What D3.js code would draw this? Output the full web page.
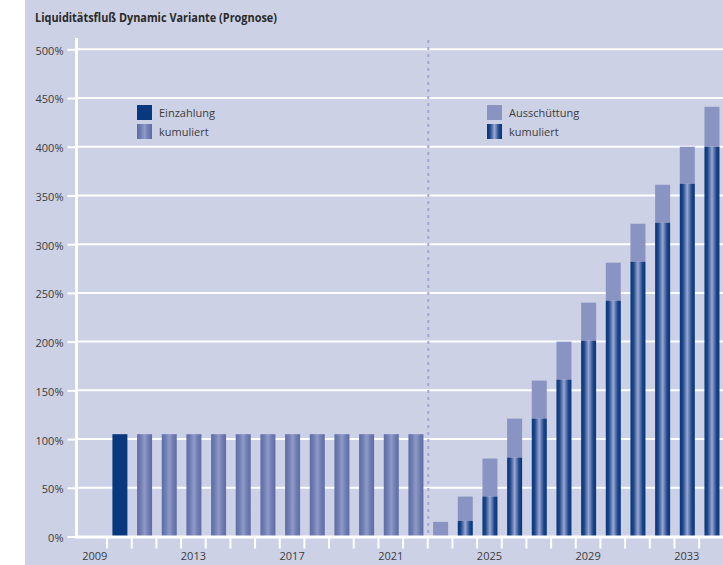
<!DOCTYPE html>
<html><head><meta charset="utf-8">
<script src="https://cdn.jsdelivr.net/npm/d3@7"></script>
<style>
html,body{margin:0;padding:0;background:#fff;}
svg{display:block;}
text{font-family:"Open Sans","DejaVu Sans",sans-serif;}
</style></head>
<body>
<svg id="chart" width="723" height="565"></svg>
<script>
// ---- data ----
const years = [2009,2010,2011,2012,2013,2014,2015,2016,2017,2018,2019,2020,2021,2022,2023,2024,2025,2026,2027,2028,2029,2030,2031,2032,2033,2034];
const tickYears = [2009,2013,2017,2021,2025,2029,2033];
const yTicks = [0,50,100,150,200,250,300,350,400,450,500];
const einzahlungYears = [2010];
const einzahlungValues = [105];
const kumuliertYears = [2011,2012,2013,2014,2015,2016,2017,2018,2019,2020,2021,2022];
const kumuliertValues = [105,105,105,105,105,105,105,105,105,105,105,105];
const prognoseYears = [2023,2024,2025,2026,2027,2028,2029,2030,2031,2032,2033,2034];
const prognoseKumuliert = [0,16,41,81,121,161,201,242,282,322,362,400];
const prognoseGesamt = [15,41,80,121,160,200,240,281,321,361,400,441];
const title = "Liquiditätsfluß Dynamic Variante (Prognose)";
const legendLeft = ["Einzahlung","kumuliert"];
const legendRight = ["Ausschüttung","kumuliert"];

// ---- setup ----
const svg = d3.select("#chart");
const W = 723, H = 565;
const bg = "#ccd1e6";
const navy = "#08397f";
const lightBar = "#8a94c2";

const defs = svg.append("defs");
function grad(id, stops){
  const g = defs.append("linearGradient").attr("id",id).attr("x1","0%").attr("x2","100%").attr("y1","0%").attr("y2","0%");
  stops.forEach(s=>g.append("stop").attr("offset",s[0]).attr("stop-color",s[1]));
}
grad("gKum",[["0%","#5d6ca7"],["25%","#6f7db2"],["50%","#8f9ac8"],["75%","#6f7db2"],["100%","#5d6ca7"]]);
grad("gNavy",[["0%","#06367d"],["20%","#1c4689"],["50%","#9ca6d2"],["80%","#1c4689"],["100%","#06367d"]]);

svg.append("rect").attr("x",25).attr("y",0).attr("width",W-25).attr("height",H).attr("fill",bg);

const x = d3.scaleBand().domain(years).range([82.4, 723.8]).paddingInner(0).paddingOuter(0);
const y = d3.scaleLinear().domain([0,500]).range([536.5, 49.3]);
const bw = 15;
const bx = d => x(d) + (x.bandwidth()-bw)/2 + 0.5;

// title
svg.append("text").attr("x",35).attr("y",22).text(title)
  .attr("font-weight","bold").attr("font-size",12.5).attr("fill","#2a2a2a")
  .attr("textLength",242).attr("lengthAdjust","spacingAndGlyphs");

// gridlines
svg.append("g").selectAll("line").data(yTicks.filter(d=>d>0)).join("line")
  .attr("x1",76).attr("x2",W).attr("y1",d=>y(d)).attr("y2",d=>y(d))
  .attr("stroke","#fff").attr("stroke-width",2);

// y axis
const yAxis = d3.axisLeft(y).tickValues(yTicks).tickFormat(d=>d+"%").tickSize(9).tickPadding(4);
const gy = svg.append("g").attr("transform","translate(76.5,0)").call(yAxis);
gy.select(".domain").remove();
gy.selectAll(".tick line").attr("stroke","#fff").attr("stroke-width",2);
gy.selectAll(".tick text").attr("font-size",11).attr("fill","#3c3c3c").attr("dy","0.45em")
  .attr("font-family","'Open Sans',sans-serif");
svg.append("line").attr("x1",76.5).attr("x2",76.5).attr("y1",38).attr("y2",538)
  .attr("stroke","#fff").attr("stroke-width",3);

// dotted separator
svg.append("line").attr("x1",x(2023)+0.5).attr("x2",x(2023)+0.5).attr("y1",40).attr("y2",535)
  .attr("stroke","#a3a9d2").attr("stroke-width",2).attr("stroke-dasharray","3,4");

// bars
svg.append("g").selectAll("rect").data(einzahlungYears.map((d,i)=>({yr:d,v:einzahlungValues[i]}))).join("rect")
  .attr("x",d=>bx(d.yr)).attr("width",bw).attr("y",d=>y(d.v)).attr("height",d=>y(0)-y(d.v)).attr("fill",navy);
svg.append("g").selectAll("rect").data(kumuliertYears.map((d,i)=>({yr:d,v:kumuliertValues[i]}))).join("rect")
  .attr("x",d=>bx(d.yr)).attr("width",bw).attr("y",d=>y(d.v)).attr("height",d=>y(0)-y(d.v)).attr("fill","url(#gKum)");
const prog = prognoseYears.map((d,i)=>({yr:d,k:prognoseKumuliert[i],t:prognoseGesamt[i]}));
svg.append("g").selectAll("rect").data(prog).join("rect")
  .attr("x",d=>bx(d.yr)).attr("width",bw).attr("y",d=>y(d.t)).attr("height",d=>y(d.k)-y(d.t)).attr("fill",lightBar);
svg.append("g").selectAll("rect").data(prog.filter(d=>d.k>0)).join("rect")
  .attr("x",d=>bx(d.yr)).attr("width",bw).attr("y",d=>y(d.k)).attr("height",d=>y(0)-y(d.k)).attr("fill","url(#gNavy)");

// x axis line
svg.append("line").attr("x1",75).attr("x2",W).attr("y1",y(0)+0.5).attr("y2",y(0)+0.5)
  .attr("stroke","#fff").attr("stroke-width",3);
// boundary ticks
svg.append("g").selectAll("line").data(years.slice(1)).join("line")
  .attr("x1",d=>x(d)).attr("x2",d=>x(d)).attr("y1",538).attr("y2",548.5)
  .attr("stroke","#fff").attr("stroke-width",2);
// x labels
const xAxis = d3.axisBottom(x).tickValues(tickYears).tickSize(0).tickPadding(0);
const gx = svg.append("g").attr("transform","translate(0,550)").call(xAxis);
gx.select(".domain").remove();
gx.selectAll(".tick text").attr("font-size",11).attr("fill","#3c3c3c").attr("dy","0.95em")
  .attr("font-family","'Open Sans',sans-serif");

// legends
function legend(x0, labels, fills){
  labels.forEach((lab,i)=>{
    svg.append("rect").attr("x",x0).attr("y",105+i*19).attr("width",15).attr("height",15).attr("fill",fills[i]);
    svg.append("text").attr("x",x0+22).attr("y",117+i*19).text(lab)
      .attr("font-size",11).attr("fill","#3c3c3c");
  });
}
legend(137, legendLeft, [navy,"url(#gKum)"]);
legend(487, legendRight, [lightBar,"url(#gNavy)"]);
</script>
</body></html>
